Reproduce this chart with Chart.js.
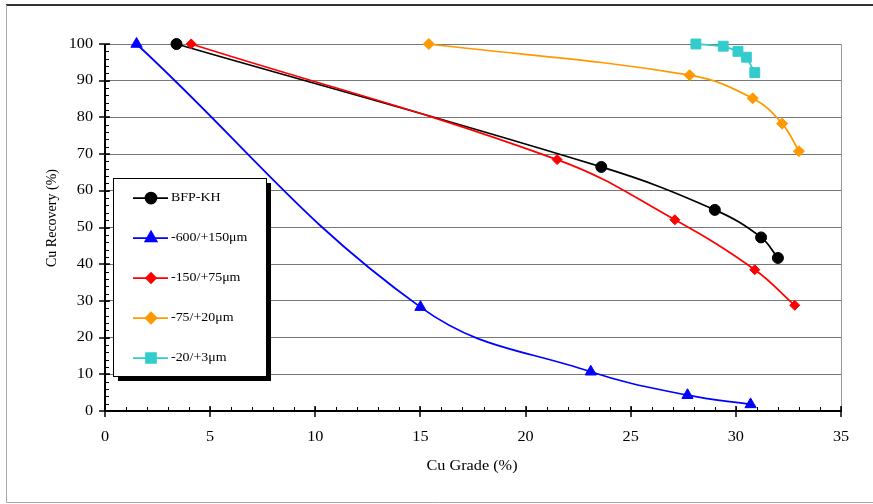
<!DOCTYPE html>
<html>
<head>
<meta charset="utf-8">
<script src="https://cdn.jsdelivr.net/npm/chart.js@4.4.1/dist/chart.umd.min.js"></script>
<style>
  html, body { margin: 0; padding: 0; background: #fff; }
  canvas { display: block; }
</style>
</head>
<body>
<canvas id="chart" width="873" height="504"></canvas>
<script>
// series: Cu grade (%) vs Cu recovery (%)
const seriesNames = ['BFP-KH', '-600/+150μm', '-150/+75μm', '-75/+20μm', '-20/+3μm'];

const bfpGrade = [3.4, 23.6, 29.0, 31.2, 32.0];
const bfpRec   = [100, 66.5, 54.8, 47.3, 41.7];

const coarseGrade = [1.5, 15.0, 23.1, 27.7, 30.7];
const coarseRec   = [100, 28.3, 10.7, 4.3, 1.8];

const midGrade = [4.1, 21.5, 27.1, 30.9, 32.8];
const midRec   = [100, 68.5, 52.1, 38.5, 28.8];

const fineGrade = [15.4, 27.8, 30.8, 32.2, 33.0];
const fineRec   = [100, 91.5, 85.2, 78.3, 70.8];

const ultraGrade = [28.1, 29.4, 30.1, 30.5, 30.9];
const ultraRec   = [100, 99.4, 98.0, 96.4, 92.2];

const xTicks = [0, 5, 10, 15, 20, 25, 30, 35];
const yTicks = [0, 10, 20, 30, 40, 50, 60, 70, 80, 90, 100];

const xTitle = 'Cu Grade (%)';
const yTitle = 'Cu Recovery (%)';

function toPoints(xs, ys) {
    return xs.map((x, i) => ({ x: x, y: ys[i] }));
}

const FONT = '"Liberation Serif", "Times New Roman", serif';
const STRETCH = 1.16;

// text in the original is a little wider than plain Times
function wideText(ctx, text, x, y, align, size) {
    ctx.save();
    ctx.font = size + 'px ' + FONT;
    ctx.fillStyle = '#000';
    ctx.textBaseline = 'middle';
    ctx.textAlign = align;
    ctx.translate(x, y);
    ctx.scale(STRETCH, 1);
    ctx.fillText(text, 0, 0);
    ctx.restore();
}

const axesPlugin = {
    id: 'excelAxes',
    beforeDatasetsDraw(chart) {
        const ctx = chart.ctx;
        const xs = chart.scales.x;
        const ys = chart.scales.y;
        const area = chart.chartArea;
        ctx.save();
        // right border of plot
        ctx.strokeStyle = '#999';
        ctx.lineWidth = 1;
        ctx.beginPath();
        ctx.moveTo(area.right + 0.5, area.top);
        ctx.lineTo(area.right + 0.5, area.bottom);
        ctx.stroke();

        ctx.strokeStyle = '#000';
        ctx.lineWidth = 1;
        // minor ticks
        for (let v = 0; v <= 35; v += 1) {
            const px = Math.round(xs.getPixelForValue(v)) + 0.5;
            ctx.beginPath();
            ctx.moveTo(px, area.bottom - 4);
            ctx.lineTo(px, area.bottom);
            ctx.stroke();
        }
        for (let v = 0; v <= 100; v += 2) {
            const py = Math.round(ys.getPixelForValue(v)) + 0.5;
            ctx.beginPath();
            ctx.moveTo(area.left, py);
            ctx.lineTo(area.left + 4, py);
            ctx.stroke();
        }
        // major ticks
        ctx.lineWidth = 1.5;
        xs.ticks.forEach(t => {
            const px = Math.round(xs.getPixelForValue(t.value));
            ctx.beginPath();
            ctx.moveTo(px, area.bottom - 5);
            ctx.lineTo(px, area.bottom + 6);
            ctx.stroke();
        });
        ys.ticks.forEach(t => {
            const py = Math.round(ys.getPixelForValue(t.value));
            ctx.beginPath();
            ctx.moveTo(area.left - 6, py);
            ctx.lineTo(area.left + 5, py);
            ctx.stroke();
        });
        // axis lines
        ctx.lineWidth = 2;
        ctx.beginPath();
        ctx.moveTo(area.left, area.top);
        ctx.lineTo(area.left, area.bottom);
        ctx.lineTo(area.right + 1, area.bottom);
        ctx.stroke();
        ctx.restore();
    },
    afterDraw(chart) {
        const ctx = chart.ctx;
        const xs = chart.scales.x;
        const ys = chart.scales.y;
        const area = chart.chartArea;

        // tick labels
        xs.ticks.forEach(t => {
            wideText(ctx, String(t.value), xs.getPixelForValue(t.value), area.bottom + 26, 'center', 14);
        });
        ys.ticks.forEach(t => {
            wideText(ctx, String(t.value), area.left - 12, ys.getPixelForValue(t.value), 'right', 14);
        });

        // axis titles
        wideText(ctx, xTitle, 472, 466, 'center', 14);
        ctx.save();
        ctx.font = '14px ' + FONT;
        ctx.fillStyle = '#000';
        ctx.textAlign = 'center';
        ctx.textBaseline = 'middle';
        ctx.translate(52, 218);
        ctx.rotate(-Math.PI / 2);
        ctx.fillText(yTitle, 0, 0);
        ctx.restore();

        // legend box with shadow
        const lx = 113, ly = 178, lw = 153, lh = 198;
        ctx.save();
        ctx.fillStyle = '#000';
        ctx.fillRect(lx + 5, ly + 5, lw, lh);
        ctx.fillStyle = '#fff';
        ctx.fillRect(lx, ly, lw, lh);
        ctx.strokeStyle = '#000';
        ctx.lineWidth = 1;
        ctx.strokeRect(lx + 0.5, ly + 0.5, lw, lh);
        chart.data.datasets.forEach((ds, i) => {
            const y = 198 + i * 40;
            ctx.strokeStyle = ds.borderColor;
            ctx.lineWidth = 1.75;
            ctx.beginPath();
            ctx.moveTo(133, y);
            ctx.lineTo(168, y);
            ctx.stroke();
            ctx.fillStyle = ds.pointBackgroundColor;
            ctx.strokeStyle = ds.pointBorderColor;
            Chart.helpers.drawPoint(ctx, {
                pointStyle: ds.pointStyle,
                radius: ds.pointRadius,
                rotation: 0,
                borderWidth: 1
            }, 151, y);
            wideText(ctx, ds.label, 171, y, 'left', 12);
        });
        ctx.restore();

        // outer frame
        ctx.save();
        ctx.strokeStyle = '#333';
        ctx.lineWidth = 2;
        ctx.beginPath();
        ctx.moveTo(6, 5);
        ctx.lineTo(873, 5);
        ctx.stroke();
        ctx.strokeStyle = '#aaa';
        ctx.lineWidth = 1;
        ctx.beginPath();
        ctx.moveTo(6.5, 5);
        ctx.lineTo(6.5, 502.5);
        ctx.lineTo(873, 502.5);
        ctx.stroke();
        ctx.restore();
    }
};

function series(label, xs, ys, color, style, radius, order, tension) {
    return {
        label: label,
        data: toPoints(xs, ys),
        borderColor: color,
        backgroundColor: color,
        pointBackgroundColor: color,
        pointBorderColor: color,
        pointStyle: style,
        pointRadius: radius,
        pointBorderWidth: 1,
        borderWidth: 1.75,
        tension: tension,
        clip: false,
        order: order
    };
}

const ctx = document.getElementById('chart').getContext('2d');
new Chart(ctx, {
    type: 'line',
    data: {
        datasets: [
            series(seriesNames[0], bfpGrade, bfpRec, '#000000', 'circle', 5.5, 5, 0.4),
            series(seriesNames[1], coarseGrade, coarseRec, '#0000FF', 'triangle', 6.5, 4, 0.4),
            series(seriesNames[2], midGrade, midRec, '#FF0000', 'rectRot', 5, 3, 0.4),
            series(seriesNames[3], fineGrade, fineRec, '#FF9900', 'rectRot', 5.5, 2, 0.4),
            series(seriesNames[4], ultraGrade, ultraRec, '#33CCCC', 'rect', 7, 1, 0.1)
        ]
    },
    options: {
        responsive: false,
        animation: false,
        devicePixelRatio: 1,
        layout: { padding: { left: 0, right: 32, top: 44, bottom: 0 } },
        plugins: {
            legend: { display: false },
            tooltip: { enabled: false }
        },
        scales: {
            x: {
                type: 'linear',
                min: 0,
                max: 35,
                afterBuildTicks: s => { s.ticks = xTicks.map(v => ({ value: v })); },
                afterFit: s => { s.height = 93; },
                ticks: { display: false },
                grid: { display: false, drawTicks: false },
                border: { display: false }
            },
            y: {
                type: 'linear',
                min: 0,
                max: 100,
                afterBuildTicks: s => { s.ticks = yTicks.map(v => ({ value: v })); },
                afterFit: s => { s.width = 105; },
                ticks: { display: false },
                grid: { color: '#777', lineWidth: 1, drawTicks: false },
                border: { display: false }
            }
        }
    },
    plugins: [axesPlugin]
});
</script>
</body>
</html>
